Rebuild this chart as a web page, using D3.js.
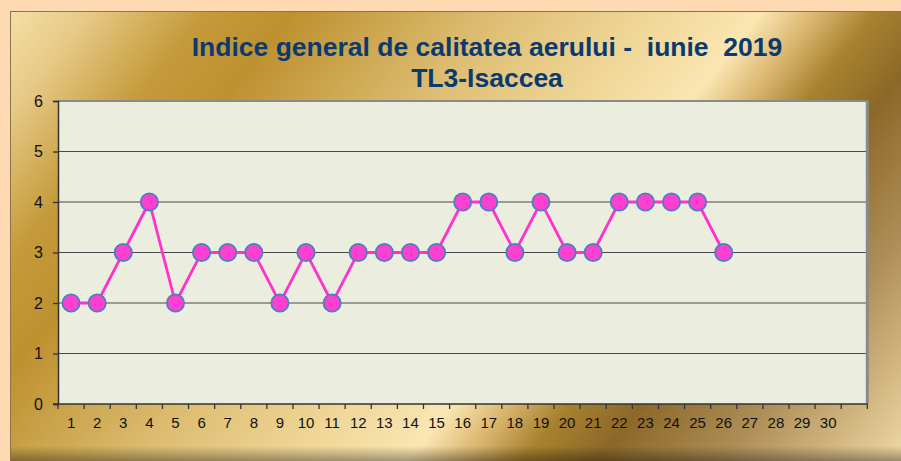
<!DOCTYPE html>
<html><head><meta charset="utf-8">
<script src="https://cdn.jsdelivr.net/npm/d3@7"></script>
<style>html,body{margin:0;padding:0;background:#FFD9B2;}svg{display:block;}</style>
</head><body>
<script>
const days = d3.range(1, 32).map(String); // 31 slots, last one unlabeled
const dayLabels = ["1","2","3","4","5","6","7","8","9","10","11","12","13","14","15","16","17","18","19","20","21","22","23","24","25","26","27","28","29","30",""];
const values = [2,2,3,4,2,3,3,3,2,3,2,3,3,3,3,4,4,3,4,3,3,4,4,4,4,3];
const yTicks = [0,1,2,3,4,5,6];
const titleLines = ["Indice general de calitatea aerului -  iunie  2019", "TL3-Isaccea"];

const W = 901, H = 461;
const svg = d3.select("body").append("svg").attr("width", W).attr("height", H);
const defs = svg.append("defs");

const g1 = defs.append("linearGradient").attr("id","bg").attr("gradientUnits","userSpaceOnUse")
  .attr("x1",0).attr("y1",0).attr("x2",781).attr("y2",614);
[[0,"#F7E4AE"],[0.08,"#E6C985"],[0.17,"#C59A3A"],[0.24,"#BE9130"],[0.40,"#DDBD72"],[0.52,"#EFD697"],[0.61,"#FAE6B2"],[0.655,"#DAB56E"],[0.70,"#A9822F"],[0.76,"#8C6828"],[0.86,"#AE8E58"],[1,"#EFD8A4"]]
  .forEach(([o,c]) => g1.append("stop").attr("offset",o).attr("stop-color",c));

const g2 = defs.append("linearGradient").attr("id","shade").attr("x1",0).attr("y1",0).attr("x2",0).attr("y2",1);
g2.append("stop").attr("offset",0).attr("stop-color","#000").attr("stop-opacity",0);
g2.append("stop").attr("offset",1).attr("stop-color","#000").attr("stop-opacity",0.35);

// outer peach frame
svg.append("rect").attr("x",0).attr("y",0).attr("width",W+20).attr("height",H+20).attr("rx",12).attr("fill","#FFD9B2");
svg.append("rect").attr("x",10.5).attr("y",11.5).attr("width",W).attr("height",H).attr("fill","url(#bg)")
  .attr("stroke","#8A7448").attr("stroke-width",1);
svg.append("rect").attr("x",11).attr("y",446).attr("width",W).attr("height",15).attr("fill","url(#shade)");

const m = {left:58, right:867.3, top:101, bottom:404};
const x = d3.scaleBand().domain(days).range([m.left, m.right]).paddingInner(0).paddingOuter(0);
const y = d3.scaleLinear().domain([0,6]).range([m.bottom, m.top]);

// plot area
svg.append("rect").attr("x",m.left).attr("y",m.top).attr("width",m.right-m.left).attr("height",m.bottom-m.top).attr("fill","#EBEEDF");

// gridlines
svg.append("g").selectAll("line").data(yTicks.filter(d=>d>0 && d<6)).join("line")
  .attr("x1",m.left).attr("x2",m.right).attr("y1",d=>y(d)).attr("y2",d=>y(d))
  .attr("stroke","#4a4a4a").attr("stroke-width",1.2);

// top & right border
svg.append("line").attr("x1",m.left).attr("x2",m.right+1).attr("y1",m.top).attr("y2",m.top).attr("stroke","#8a8a8a").attr("stroke-width",2);
svg.append("line").attr("x1",m.right).attr("x2",m.right).attr("y1",m.top).attr("y2",m.bottom).attr("stroke","#8a8a8a").attr("stroke-width",3);

// y axis
const yAxis = d3.axisLeft(y).tickValues(yTicks).tickSize(5).tickPadding(10).tickFormat(d3.format("d"));
const ya = svg.append("g").attr("transform",`translate(${m.left},0)`).call(yAxis);
ya.select(".domain").attr("stroke","#333").attr("stroke-width",1.5);
ya.selectAll(".tick line").attr("stroke","#333").attr("stroke-width",1.3);
ya.selectAll("text").attr("font-family","Liberation Sans, Arial, sans-serif").attr("font-size",16).attr("fill","#111");

// x axis
const xAxis = d3.axisBottom(x).tickSize(0).tickPadding(0).tickFormat((d,i)=>dayLabels[i]);
const xa = svg.append("g").attr("transform",`translate(0,${m.bottom})`).call(xAxis);
xa.select(".domain").remove();
xa.selectAll("text").attr("font-family","Liberation Sans, Arial, sans-serif").attr("font-size",15).attr("fill","#111").attr("dy",null).attr("y",24);
svg.append("line").attr("x1",m.left-5).attr("x2",m.right).attr("y1",m.bottom).attr("y2",m.bottom).attr("stroke","#333").attr("stroke-width",1.5);
svg.append("g").selectAll("line").data(days.concat(["end"])).join("line")
  .attr("x1",(d,i)=> i<days.length ? x(d) : m.right).attr("x2",(d,i)=> i<days.length ? x(d) : m.right)
  .attr("y1",m.bottom).attr("y2",m.bottom+5).attr("stroke","#333").attr("stroke-width",1.3);

// line
const pts = values.map((v,i)=>({d:days[i], v}));
const cx = d => x(d.d) + x.bandwidth()/2;
svg.append("path").datum(pts).attr("fill","none").attr("stroke","#FF33CC").attr("stroke-width",2.8)
  .attr("d", d3.line().x(cx).y(d=>y(d.v)));
svg.append("g").selectAll("circle").data(pts).join("circle")
  .attr("cx",cx).attr("cy",d=>y(d.v)).attr("r",8.6)
  .attr("fill","#FF3FCF").attr("stroke","#4A80BE").attr("stroke-width",1.8);

// title
svg.append("g").selectAll("text").data(titleLines).join("text")
  .attr("x",487).attr("y",(d,i)=>56+i*31).attr("text-anchor","middle")
  .attr("font-family","Liberation Sans, Arial, sans-serif").attr("font-weight","bold").attr("font-size",26.5)
  .attr("fill","#0B3A6E").attr("xml:space","preserve").style("white-space","pre").text(d=>d);
</script>
</body></html>
